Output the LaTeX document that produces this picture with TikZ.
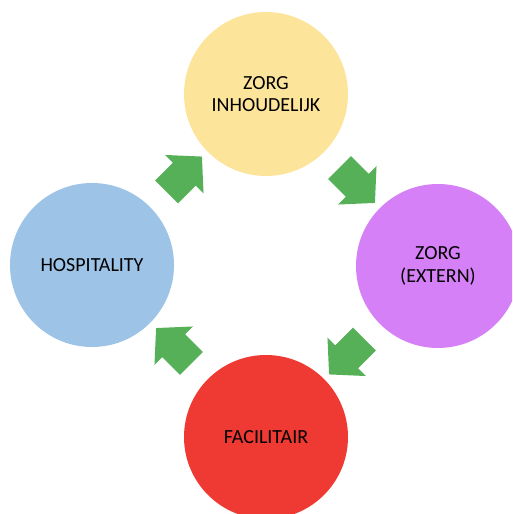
\documentclass[tikz,border=0pt]{standalone}
\usepackage{fontspec}
\setmainfont{Carlito}
\usetikzlibrary{calc,shapes.arrows}
\definecolor{geelZorg}{HTML}{FDE49B}
\definecolor{paarsZorg}{HTML}{D580F6}
\definecolor{roodFac}{HTML}{EE3A33}
\definecolor{blauwHosp}{HTML}{9DC3E6}
\definecolor{groenPijl}{HTML}{55B057}

\begin{document}
\begin{tikzpicture}[
  x=1pt, y=1pt,
  bol/.style={circle, minimum size=164pt, inner sep=0pt, align=center, font=\fontsize{20}{22.5}\selectfont},
  pijl/.style={single arrow, fill=groenPijl, draw=none, single arrow head extend=11pt, single arrow tip angle=95, minimum height=50pt, inner xsep=0pt, inner ysep=16pt}
]
\useasboundingbox (0,0) rectangle (512,514);
\clip (0,0) rectangle (512,514);
\node[bol, fill=geelZorg] (inhoud) at (266,420) {ZORG\\INHOUDELIJK};
\node[bol, fill=paarsZorg] (extern) at (438,248) {ZORG\\(EXTERN)};
\node[bol, fill=roodFac] (facil) at (266,77) {FACILITAIR};
\node[bol, fill=blauwHosp] (hosp) at (92,249) {HOSPITALITY};
\node[pijl, rotate=45] (p1) at ($(hosp)!0.5!(inhoud)$) {};
\node[pijl, rotate=-45] (p2) at ($(inhoud)!0.5!(extern)$) {};
\node[pijl, rotate=-135] (p3) at ($(extern)!0.5!(facil)$) {};
\node[pijl, rotate=135] (p4) at ($(facil)!0.5!(hosp)$) {};
\end{tikzpicture}
\end{document}
